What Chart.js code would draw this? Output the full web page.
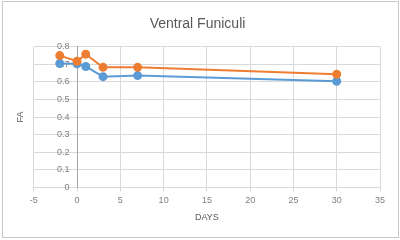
<!DOCTYPE html>
<html>
<head>
<meta charset="utf-8">
<script src="https://cdn.jsdelivr.net/npm/chart.js@4"></script>
<style>
  body { margin: 0; background: #fff; }
  #wrap { position: relative; width: 400px; height: 240px; }
  #frame { position: absolute; left: 2px; top: 1px; width: 395px; height: 235px; border: 1px solid #c8c8c8; pointer-events: none; }
</style>
</head>
<body>
<div id="wrap">
  <canvas id="fa" width="400" height="240"></canvas>
  <div id="frame"></div>
</div>
<script>
// days after injury
const days = [-2, 0, 1, 3, 7, 30];
const seriesOrange = [0.75, 0.718, 0.758, 0.683, 0.683, 0.644];
const seriesBlue = [0.705, 0.703, 0.688, 0.63, 0.636, 0.604];
const xTicks = [-5, 0, 5, 10, 15, 20, 25, 30, 35];
const yTicks = [0, 0.1, 0.2, 0.3, 0.4, 0.5, 0.6, 0.7, 0.8];

const font = "'Liberation Sans', sans-serif";

function pts(vals) {
    return days.map((d, i) => ({ x: d, y: vals[i] }));
}

const ctx = document.getElementById('fa').getContext('2d');
new Chart(ctx, {
    type: 'line',
    data: {
        datasets: [{
            label: 'orange',
            data: pts(seriesOrange),
            borderColor: '#ED7D31',
            backgroundColor: '#ED7D31',
            borderWidth: 2,
            pointRadius: 3.5,
            yAxisID: 'y'
        }, {
            label: 'blue',
            data: pts(seriesBlue),
            borderColor: '#5B9BD5',
            backgroundColor: '#5B9BD5',
            borderWidth: 2,
            pointRadius: 3.5,
            yAxisID: 'y'
        }]
    },
    options: {
        responsive: false,
        animation: false,
        layout: { padding: { left: 15, right: 20, top: 0, bottom: 15 } },
        plugins: {
            legend: { display: false },
            tooltip: { enabled: false },
            title: {
                display: true,
                text: 'Ventral Funiculi',
                color: '#595959',
                font: { family: font, size: 14, weight: 'normal' },
                padding: { top: 16, bottom: 14 }
            }
        },
        scales: {
            x: {
                type: 'linear',
                min: -5, max: 35,
                afterBuildTicks: s => { s.ticks = xTicks.map(v => ({ value: v })); },
                ticks: { color: '#7f7f7f', font: { family: font, size: 9 }, padding: 4 },
                grid: { color: '#d9d9d9', tickLength: 4 },
                border: { color: '#d9d9d9' },
                title: { display: true, text: 'DAYS', color: '#595959', font: { family: font, size: 9 }, padding: 2 }
            },
            y: {
                position: { x: 0 },
                min: 0, max: 0.8,
                afterBuildTicks: s => { s.ticks = yTicks.map(v => ({ value: v })); },
                ticks: { color: '#7f7f7f', font: { family: font, size: 9 }, callback: v => v + '   ' },
                grid: { color: '#d9d9d9', drawTicks: false },
                border: { color: '#a6a6a6' }
            },
            yTitle: {
                position: 'left',
                min: 0, max: 0.8,
                ticks: { display: false },
                grid: { display: false },
                border: { display: false },
                title: { display: true, text: 'FA', color: '#595959', font: { family: font, size: 9 }, padding: 0 }
            }
        }
    }
});
</script>
</body>
</html>
